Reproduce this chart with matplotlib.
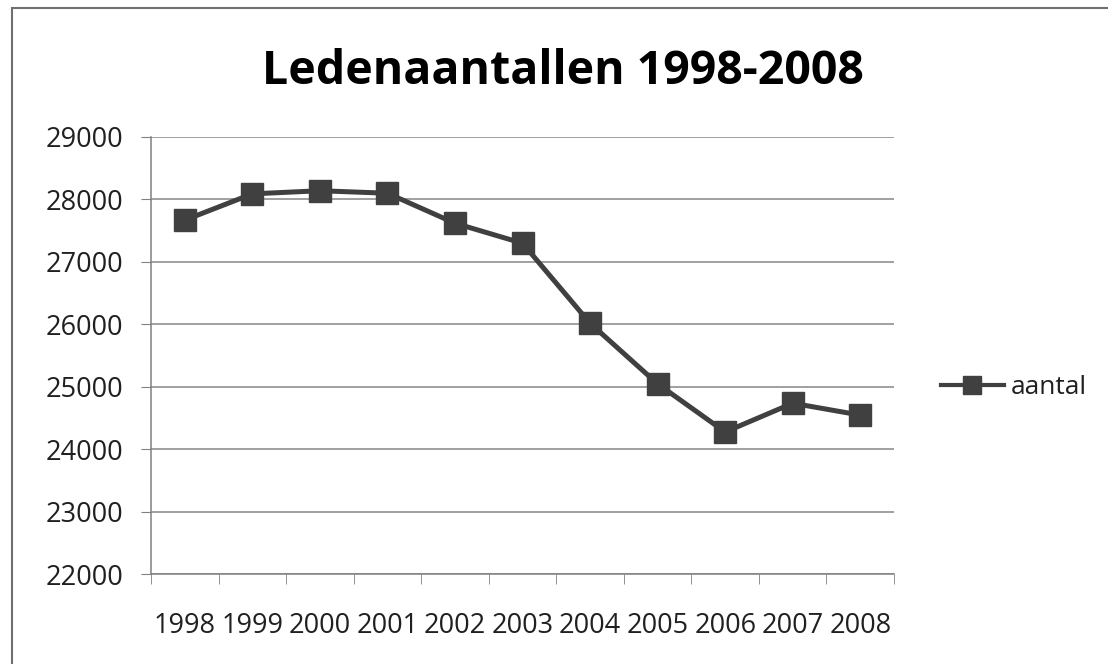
import matplotlib.pyplot as plt
from matplotlib.lines import Line2D
from matplotlib.patches import Rectangle

years = ["1998", "1999", "2000", "2001", "2002", "2003", "2004", "2005", "2006", "2007", "2008"]
aantal = [27670, 28090, 28140, 28100, 27620, 27300, 26020, 25050, 24280, 24740, 24550]
y_ticks = [22000, 23000, 24000, 25000, 26000, 27000, 28000, 29000]

plt.rcParams["font.family"] = ["Open Sans", "DejaVu Sans"]

fig = plt.figure(figsize=(11.08, 6.64), dpi=100)
# outer chart frame (only top and left edges are visible in the crop)
fig.patches.append(Rectangle((0.011, -0.1), 1.2, 1.088, transform=fig.transFigure,
                             fill=False, edgecolor="#707070", linewidth=1.5))

ax = fig.add_axes([0.1363, 0.1348, 0.6706, 0.6589])
x = list(range(len(years)))
ax.plot(x, aantal, color="#404040", linewidth=3.6, marker="s", markersize=16.5,
        markerfacecolor="#404040", markeredgecolor="#404040")

ax.set_xlim(-0.5, len(years) - 0.5)
ax.set_ylim(22000, 29000)
ax.set_yticks(y_ticks)
ax.set_yticklabels([str(v) for v in y_ticks], fontsize=19.5)
ax.set_xticks(x)
ax.set_xticklabels(years, fontsize=19.5)
ax.set_xticks([i - 0.5 for i in range(len(years) + 1)], minor=True)
ax.tick_params(axis="x", which="major", length=0, pad=27, colors="#202020")
ax.tick_params(axis="x", which="minor", length=7, direction="out", color="#808080")
ax.tick_params(axis="y", length=7, direction="out", color="#808080", pad=13,
               labelcolor="#202020")

ax.grid(axis="y", color="#868686", linewidth=1.1)
ax.set_axisbelow(True)
for side in ["top", "right"]:
    ax.spines[side].set_visible(False)
for side in ["left", "bottom"]:
    ax.spines[side].set_color("#808080")
    ax.spines[side].set_linewidth(1.1)

fig.text(0.508, 0.893, "Ledenaantallen 1998-2008", ha="center", va="center",
         fontsize=33.5, fontweight="bold")

handle = Line2D([], [], color="#404040", linewidth=3.0, marker="s", markersize=13.5)
fig.legend([handle], ["aantal"], loc="center left", bbox_to_anchor=(0.837, 0.416),
           frameon=False, fontsize=19, handlelength=2.4, handletextpad=0.27,
           borderpad=0, labelcolor="#202020")

fig.savefig("out.png", dpi=100, facecolor="white")
